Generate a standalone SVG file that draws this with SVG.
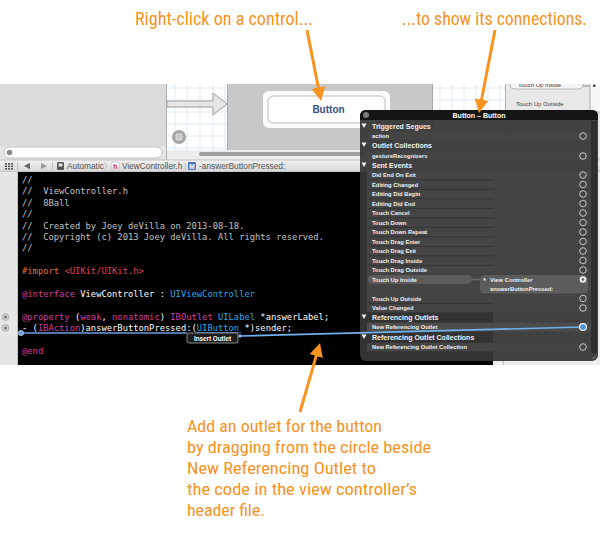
<svg xmlns="http://www.w3.org/2000/svg" width="600" height="533" viewBox="0 0 600 533">
<defs>
<style>
.ann{font-family:"Liberation Sans Narrow","Roboto Condensed","Liberation Sans",Arial,sans-serif;font-size:17px;fill:#f7931e}
.annt{font-family:"Liberation Sans Narrow","Roboto Condensed","Liberation Sans",Arial,sans-serif;font-size:18px;fill:#f7931e}
.code{font-family:"DejaVu Sans Mono","Liberation Mono",monospace;font-size:8.8px;fill:#ffffff;white-space:pre}
.cm{fill:#c2c2c2}
.kw{fill:#d63d9c}
.ty{fill:#2aa6ea}
.pp{fill:#e0743c}
.st{fill:#ea3f4d}
.it{font-family:"Liberation Sans",Arial,sans-serif;font-size:5.8px;font-weight:bold;fill:#f0f0f0}
.hd{font-family:"Liberation Sans",Arial,sans-serif;font-size:7px;font-weight:bold;fill:#f0f0f0}
.band{fill:#444444}
.cir{fill:none;stroke:#d4d4d4;stroke-width:0.9}
.tri{fill:#eeeeee}
.jb{font-family:"Liberation Sans",Arial,sans-serif;font-size:8.3px;fill:#555555}
.grid{stroke:#d4e3f2;stroke-width:0.7}
.arrow{stroke:#f7931e;stroke-width:3;fill:none;marker-end:url(#oh)}
.sm{font-family:"Liberation Sans",Arial,sans-serif;font-size:6px;fill:#444444}
</style>
<marker id="oh" viewBox="0 0 10 10" refX="6" refY="5" markerWidth="4.6" markerHeight="4.6" orient="auto" markerUnits="strokeWidth">
<path d="M0,0 L10,5 L0,10 z" fill="#f7931e"/>
</marker>
<linearGradient id="jbg" x1="0" y1="0" x2="0" y2="1">
<stop offset="0" stop-color="#f2f2f2"/>
<stop offset="1" stop-color="#d6d6d6"/>
</linearGradient>
<clipPath id="shot"><rect x="0" y="84" width="600" height="281"/></clipPath>
</defs>
<rect x="0" y="0" width="600" height="533" fill="#ffffff"/>

<g id="screenshot" clip-path="url(#shot)">
<rect x="0" y="84" width="167" height="76" fill="#dcdcdc"/>
<rect x="0" y="146" width="167" height="14" fill="#e4e4e4"/>
<rect x="4" y="147" width="158" height="11" rx="5.5" fill="#ffffff" stroke="#b5b5b5" stroke-width="0.8"/>
<circle cx="9.5" cy="152.5" r="2.8" fill="#8a8a8a"/>
<line x1="166.5" y1="84" x2="166.5" y2="160" stroke="#b0b0b0" stroke-width="1"/>
<rect x="167" y="84" width="60" height="66" fill="#ffffff"/>
<g class="grid">
<line x1="175" y1="84" x2="175" y2="150"/><line x1="187" y1="84" x2="187" y2="150"/><line x1="200" y1="84" x2="200" y2="150"/><line x1="213" y1="84" x2="213" y2="150"/><line x1="225" y1="84" x2="225" y2="150"/>
<line x1="167" y1="88" x2="227" y2="88"/><line x1="167" y1="100" x2="227" y2="100"/><line x1="167" y1="112" x2="227" y2="112"/><line x1="167" y1="124" x2="227" y2="124"/><line x1="167" y1="136" x2="227" y2="136"/><line x1="167" y1="148" x2="227" y2="148"/>
</g>
<polygon points="167,101 213,101 213,93 227,104 213,115 213,107 167,107" fill="#e6e6e6" stroke="#9c9c9c" stroke-width="1"/>
<circle cx="179" cy="137" r="7" fill="#a6a6a6"/>
<rect x="176" y="134" width="6" height="6" rx="1" fill="#c8c8c8" stroke="#eeeeee" stroke-width="0.7"/>
<rect x="227" y="84" width="205" height="66" fill="#c8c8c8"/>
<line x1="227.5" y1="84" x2="227.5" y2="150" stroke="#a8a8a8" stroke-width="1"/>
<rect x="167" y="150" width="265" height="10" fill="#ececec"/>
<rect x="199" y="152" width="165" height="4" rx="2" fill="#9e9e9e"/>
<rect x="432" y="84" width="73" height="76" fill="#ffffff"/>
<g class="grid">
<line x1="440" y1="84" x2="440" y2="160"/><line x1="452" y1="84" x2="452" y2="160"/><line x1="464" y1="84" x2="464" y2="160"/><line x1="476" y1="84" x2="476" y2="160"/><line x1="488" y1="84" x2="488" y2="160"/><line x1="500" y1="84" x2="500" y2="160"/>
<line x1="432" y1="88" x2="505" y2="88"/><line x1="432" y1="100" x2="505" y2="100"/><line x1="432" y1="112" x2="505" y2="112"/>
</g>
<line x1="432.5" y1="84" x2="432.5" y2="160" stroke="#a8a8a8" stroke-width="1"/>
<rect x="505" y="84" width="95" height="76" fill="#e8e8e8"/>
<line x1="505.5" y1="84" x2="505.5" y2="160" stroke="#b0b0b0" stroke-width="1"/>
<rect x="510" y="78" width="73" height="11" rx="4" fill="#f3f3f3" stroke="#a8a8a8" stroke-width="0.8"/>
<text class="sm" x="518" y="87">Touch Up Inside</text>
<line x1="583" y1="86" x2="590" y2="86" stroke="#777777" stroke-width="0.8"/>
<rect x="590" y="78" width="14" height="34" rx="3" fill="#f7f7f7" stroke="#a0a0a0" stroke-width="0.8"/>
<rect x="593" y="84.5" width="2.5" height="2.5" fill="#555555"/>
<text class="sm" x="516" y="106">Touch Up Outside</text>
</g>

<g id="jump-bar">
<rect x="0" y="160" width="600" height="12" fill="url(#jbg)"/>
<line x1="0" y1="160" x2="600" y2="160" stroke="#aaaaaa" stroke-width="0.6"/>
<line x1="0" y1="172" x2="600" y2="172" stroke="#9a9a9a" stroke-width="0.6"/>
<g fill="#555555">
<rect x="5" y="163" width="2" height="1.6"/><rect x="8" y="163" width="2" height="1.6"/><rect x="11" y="163" width="2" height="1.6"/>
<rect x="5" y="165.5" width="2" height="1.6"/><rect x="8" y="165.5" width="2" height="1.6"/><rect x="11" y="165.5" width="2" height="1.6"/>
<rect x="5" y="168" width="2" height="1.6"/><rect x="8" y="168" width="2" height="1.6"/><rect x="11" y="168" width="2" height="1.6"/>
</g>
<line x1="17.5" y1="162" x2="17.5" y2="170" stroke="#b0b0b0" stroke-width="0.7"/>
<polygon points="24,166 30,162.8 30,169.2" fill="#666666"/>
<polygon points="41,162.8 47,166 41,169.2" fill="#9a9a9a"/>
<line x1="52.5" y1="162" x2="52.5" y2="170" stroke="#b0b0b0" stroke-width="0.7"/>
<rect x="57" y="162" width="7" height="8" rx="1" fill="#555555"/>
<rect x="58.5" y="163.5" width="4" height="3" fill="#dddddd"/>
<text class="jb" x="67" y="169.2">Automatic</text>
<polyline points="104.5,162.5 107,166 104.5,169.5" fill="none" stroke="#aaaaaa" stroke-width="0.7"/>
<rect x="112" y="162" width="7" height="8" fill="#ffffff" stroke="#b0b0b0" stroke-width="0.6"/>
<text x="113.2" y="168.8" font-family="Liberation Sans, Arial, sans-serif" font-size="7px" font-weight="bold" fill="#c0282d">h</text>
<text class="jb" x="122" y="169.2">ViewController.h</text>
<polyline points="184,162.5 186.5,166 184,169.5" fill="none" stroke="#aaaaaa" stroke-width="0.7"/>
<rect x="188" y="162" width="8" height="8" rx="1" fill="#4b78c6"/>
<text x="192" y="168.6" text-anchor="middle" font-family="Liberation Sans, Arial, sans-serif" font-size="6.5px" font-weight="bold" fill="#ffffff">M</text>
<text class="jb" x="199" y="169.2">-answerButtonPressed:</text>
</g>

<g id="code-editor">
<rect x="0" y="172" width="18" height="193" fill="#e6e6e6"/>
<line x1="17.5" y1="172" x2="17.5" y2="365" stroke="#c4c4c4" stroke-width="1"/>
<rect x="18" y="172" width="475" height="193" fill="#000000"/>
<rect x="493" y="172" width="107" height="193" fill="#ececec"/>
<line x1="503.5" y1="172" x2="503.5" y2="365" stroke="#c0c0c0" stroke-width="1"/>
<circle cx="5.5" cy="317" r="3.4" fill="#d0d0d0" stroke="#9a9a9a" stroke-width="0.6"/>
<circle cx="5.5" cy="317" r="1.5" fill="#7a7a7a"/>
<circle cx="5.5" cy="328" r="3.4" fill="#d0d0d0" stroke="#9a9a9a" stroke-width="0.6"/>
<circle cx="5.5" cy="328" r="1.5" fill="#7a7a7a"/>
<g class="code">
<text x="22" y="183"><tspan class="cm">//</tspan></text>
<text x="22" y="194.4"><tspan class="cm">//&#160; ViewController.h</tspan></text>
<text x="22" y="205.8"><tspan class="cm">//&#160; 8Ball</tspan></text>
<text x="22" y="217.2"><tspan class="cm">//</tspan></text>
<text x="22" y="228.6"><tspan class="cm">//&#160; Created by Joey deVilla on 2013-08-18.</tspan></text>
<text x="22" y="240"><tspan class="cm">//&#160; Copyright (c) 2013 Joey deVilla. All rights reserved.</tspan></text>
<text x="22" y="251.4"><tspan class="cm">//</tspan></text>
<text x="22" y="274.2"><tspan class="pp">#import</tspan> <tspan class="st">&lt;UIKit/UIKit.h&gt;</tspan></text>
<text x="22" y="297"><tspan class="kw">@interface</tspan> ViewController : <tspan class="ty">UIViewController</tspan></text>
<text x="22" y="319.8"><tspan class="kw">@property</tspan> (<tspan class="kw">weak</tspan>, <tspan class="kw">nonatomic</tspan>) <tspan class="kw">IBOutlet</tspan> <tspan class="ty">UILabel</tspan> *answerLabel;</text>
<text x="22" y="331.2">- (<tspan class="kw">IBAction</tspan>)answerButtonPressed:(<tspan class="ty">UIButton</tspan> *)sender;</text>
<text x="22" y="354"><tspan class="kw">@end</tspan></text>
</g>
<line x1="196" y1="332.6" x2="241" y2="332.6" stroke="#4d80d2" stroke-width="0.9"/>
</g>

<g id="button">
<rect x="263" y="91" width="127" height="37" rx="6" fill="#fbfbfb"/>
<rect x="268" y="96" width="117" height="27" rx="5" fill="#ffffff" stroke="#b5b5b5" stroke-width="0.9"/>
<text x="328.5" y="113" text-anchor="middle" font-family="Liberation Sans, Arial, sans-serif" font-size="10px" font-weight="bold" fill="#3a4e80">Button</text>
</g>

<g id="connections-panel">
<rect x="360" y="110" width="238" height="251" rx="6" fill="#363636" fill-opacity="0.94"/>
<path d="M360,120 L360,116 Q360,110 366,110 L592,110 Q598,110 598,116 L598,120 Z" fill="#151515"/>
<circle cx="366" cy="115" r="3" fill="#7a7a7a"/>
<text x="479" y="117.6" text-anchor="middle" font-family="Liberation Sans, Arial, sans-serif" font-size="7px" font-weight="bold" fill="#ffffff">Button – Button</text>
<rect x="591" y="121" width="6" height="232" fill="#2b2b2b" fill-opacity="0.8"/>
<g stroke="#8a8a8a" stroke-width="0.6">
<line x1="592" y1="359" x2="596" y2="355"/><line x1="594" y1="359" x2="596" y2="357"/>
</g>
<polygon class="tri" points="361.5,123.5 366.5,123.5 364,128"/>
<text class="hd" x="372" y="128.5">Triggered Segues</text>
<polygon class="tri" points="361.5,142.5 366.5,142.5 364,147"/>
<text class="hd" x="372" y="147.5">Outlet Collections</text>
<polygon class="tri" points="361.5,162.5 366.5,162.5 364,167"/>
<text class="hd" x="372" y="167.5">Sent Events</text>
<polygon class="tri" points="361.5,314.5 366.5,314.5 364,319"/>
<text class="hd" x="372" y="319.5">Referencing Outlets</text>
<polygon class="tri" points="361.5,334.5 366.5,334.5 364,339"/>
<text class="hd" x="372" y="339.5">Referencing Outlet Collections</text>
<g class="band">
<rect x="367" y="131.8" width="224" height="8.6"/>
<rect x="367" y="151.8" width="224" height="8.6"/>
<rect x="367" y="170.8" width="224" height="8.6"/>
<rect x="367" y="180.3" width="224" height="8.6"/>
<rect x="367" y="189.8" width="224" height="8.6"/>
<rect x="367" y="199.3" width="224" height="8.6"/>
<rect x="367" y="208.8" width="224" height="8.6"/>
<rect x="367" y="218.3" width="224" height="8.6"/>
<rect x="367" y="227.8" width="224" height="8.6"/>
<rect x="367" y="237.3" width="224" height="8.6"/>
<rect x="367" y="246.8" width="224" height="8.6"/>
<rect x="367" y="256.3" width="224" height="8.6"/>
<rect x="367" y="265.8" width="224" height="8.6"/>
<rect x="367" y="274.3" width="224" height="20"/>
<rect x="367" y="294.3" width="224" height="8.6"/>
<rect x="367" y="303.8" width="224" height="8.6"/>
<rect x="367" y="342.8" width="224" height="8.6"/>
</g>
<rect x="367" y="322.6" width="224" height="8.8" fill="#4c4c4c"/>
<rect x="368" y="275" width="104" height="9" rx="4.5" fill="#5c5c5c"/>
<line x1="472" y1="279.5" x2="480" y2="279.5" stroke="#6a6a6a" stroke-width="1.5"/>
<rect x="480" y="275" width="108" height="18.5" rx="4.5" fill="#5c5c5c"/>
<rect x="483.5" y="278.3" width="2.2" height="2.2" fill="#dddddd"/>
<text class="it" x="490" y="281.5">View Controller</text>
<text class="it" x="490" y="291">answerButtonPressed:</text>
<text class="it" x="372" y="138">action</text>
<text class="it" x="372" y="158">gestureRecognizers</text>
<text class="it" x="372" y="177">Did End On Exit</text>
<text class="it" x="372" y="186.5">Editing Changed</text>
<text class="it" x="372" y="196">Editing Did Begin</text>
<text class="it" x="372" y="205.5">Editing Did End</text>
<text class="it" x="372" y="215">Touch Cancel</text>
<text class="it" x="372" y="224.5">Touch Down</text>
<text class="it" x="372" y="234">Touch Down Repeat</text>
<text class="it" x="372" y="243.5">Touch Drag Enter</text>
<text class="it" x="372" y="253">Touch Drag Exit</text>
<text class="it" x="372" y="262.5">Touch Drag Inside</text>
<text class="it" x="372" y="272">Touch Drag Outside</text>
<text class="it" x="372" y="281.5">Touch Up Inside</text>
<text class="it" x="372" y="300.5">Touch Up Outside</text>
<text class="it" x="372" y="310">Value Changed</text>
<text class="it" x="372" y="329">New Referencing Outlet</text>
<text class="it" x="372" y="349">New Referencing Outlet Collection</text>
<circle class="cir" cx="583" cy="136" r="3.3"/>
<circle class="cir" cx="583" cy="156" r="3.3"/>
<circle class="cir" cx="583" cy="175" r="3.3"/>
<circle class="cir" cx="583" cy="184.5" r="3.3"/>
<circle class="cir" cx="583" cy="194" r="3.3"/>
<circle class="cir" cx="583" cy="203.5" r="3.3"/>
<circle class="cir" cx="583" cy="213" r="3.3"/>
<circle class="cir" cx="583" cy="222.5" r="3.3"/>
<circle class="cir" cx="583" cy="232" r="3.3"/>
<circle class="cir" cx="583" cy="241.5" r="3.3"/>
<circle class="cir" cx="583" cy="251" r="3.3"/>
<circle class="cir" cx="583" cy="260.5" r="3.3"/>
<circle class="cir" cx="583" cy="270" r="3.3"/>
<circle cx="583" cy="279.5" r="3.3" fill="#eeeeee"/>
<circle cx="583" cy="279.5" r="1.4" fill="#6a6a6a"/>
<circle class="cir" cx="583" cy="298.5" r="3.3"/>
<circle class="cir" cx="583" cy="308" r="3.3"/>
<circle class="cir" cx="583" cy="347" r="3.3"/>
</g>

<g id="connectors">
<line x1="21" y1="333" x2="187" y2="333" stroke="#6c9fe2" stroke-width="1.5"/>
<circle cx="21" cy="333" r="2.6" fill="#6c9fe2" stroke="#c9dcf5" stroke-width="0.7"/>
<line x1="240" y1="336" x2="583" y2="327" stroke="#6fb2ee" stroke-width="1.6"/>
<circle cx="240" cy="336" r="1.8" fill="#7ab4ee"/>
<circle cx="583" cy="327" r="3.4" fill="#4d8fdc" stroke="#ffffff" stroke-width="1.1"/>
<line class="arrow" x1="307" y1="30" x2="320" y2="95.7"/>
<line class="arrow" x1="495" y1="30" x2="480" y2="107.7"/>
<line class="arrow" x1="300" y1="412" x2="318.5" y2="348.2"/>
</g>

<g id="insert-outlet-tooltip">
<rect x="187" y="333" width="51" height="10" rx="2" fill="#1c1c1c" stroke="#a8a8a8" stroke-width="0.8"/>
<text x="212.5" y="340.5" text-anchor="middle" font-family="Liberation Sans, Arial, sans-serif" font-size="6.3px" font-weight="bold" fill="#ffffff">Insert Outlet</text>
</g>

<g id="annotation-right-click">
<text class="annt" x="135" y="25" textLength="178" lengthAdjust="spacingAndGlyphs">Right-click on a control...</text>
</g>
<g id="annotation-connections">
<text class="annt" x="402" y="25" textLength="185" lengthAdjust="spacingAndGlyphs">...to show its connections.</text>
</g>
<g id="annotation-outlet">
<text class="ann" x="187" y="432" textLength="195" lengthAdjust="spacingAndGlyphs">Add an outlet for the button</text>
<text class="ann" x="187" y="453" textLength="244" lengthAdjust="spacingAndGlyphs">by dragging from the circle beside</text>
<text class="ann" x="187" y="474" textLength="189" lengthAdjust="spacingAndGlyphs">New Referencing Outlet to</text>
<text class="ann" x="187" y="495" textLength="230" lengthAdjust="spacingAndGlyphs">the code in the view controller’s</text>
<text class="ann" x="187" y="516" textLength="78" lengthAdjust="spacingAndGlyphs">header file.</text>
</g>
</svg>
